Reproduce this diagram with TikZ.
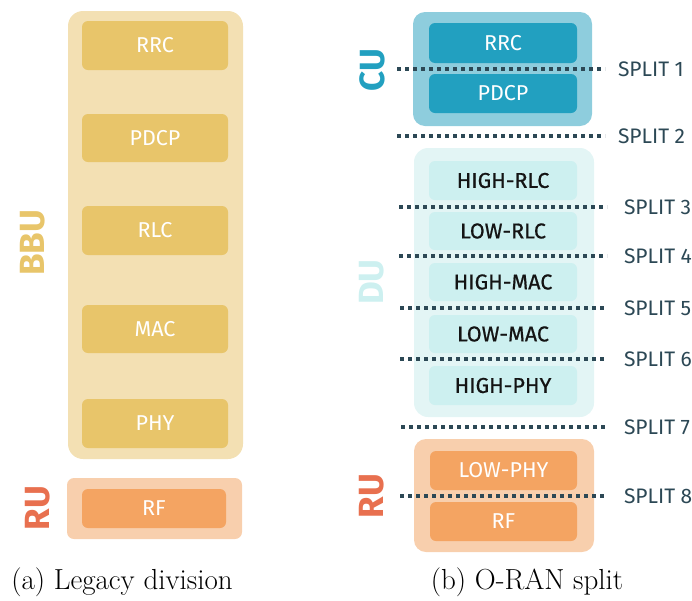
\documentclass[tikz,border=0pt]{standalone}
\usepackage{fontspec}
\newfontfamily\labelfont{Fira Sans}
\newfontfamily\medlabelfont{Fira Sans}[FakeBold=0.7]
\definecolor{bbuBack}{HTML}{F3E0B3}
\definecolor{bbuFill}{HTML}{E8C56A}
\definecolor{ruBack}{HTML}{F8CFAD}
\definecolor{ruFill}{HTML}{F4A462}
\definecolor{ruText}{HTML}{E8704F}
\definecolor{cuBack}{HTML}{8ECDDD}
\definecolor{cuFill}{HTML}{22A0C0}
\definecolor{duBack}{HTML}{E3F5F5}
\definecolor{duFill}{HTML}{CDF0F0}
\definecolor{splitInk}{HTML}{2C4855}
\begin{document}
\begin{tikzpicture}[x=1pt,y=-1pt,
  every node/.style={outer sep=0pt, inner sep=0pt},
  layer/.style={rounded corners=6pt, minimum width=146pt, text=white,
    font=\labelfont\fontsize{21.5}{24}\selectfont},
  dulayer/.style={layer, text=black!92, font=\medlabelfont\fontsize{21.5}{24}\selectfont},
  group/.style={rounded corners=#1},
  unitlabel/.style={rotate=90, font=\labelfont\bfseries\fontsize{35}{38}\selectfont},
  splitline/.style={splitInk, line width=3.5pt, dash pattern=on 4pt off 4pt},
  splitlabel/.style={anchor=west, text=splitInk, font=\labelfont\fontsize{21}{24}\selectfont},
  caption/.style={font=\fontsize{29}{32}\selectfont}]
\useasboundingbox (0,0) rectangle (692,600);

% ---------- (a) legacy division ----------
\fill[bbuBack, group=15pt] (68,11) rectangle (243,459);
\node[layer, fill=bbuFill, minimum height=49pt] (rrcA) at (155,45.5) {RRC};
\node[layer, fill=bbuFill, minimum height=48pt] (pdcpA) at (155,138) {PDCP};
\node[layer, fill=bbuFill, minimum height=49pt] (rlcA) at (155,230.5) {RLC};
\node[layer, fill=bbuFill, minimum height=48pt] (macA) at (155,329) {MAC};
\node[layer, fill=bbuFill, minimum height=49pt] (phyA) at (155,423.5) {PHY};
\fill[ruBack, group=7pt] (67,478) rectangle (242,539);
\node[layer, fill=ruFill, minimum height=39pt, minimum width=144pt] (rfA) at (154,508.5) {RF};
\node[unitlabel, text=bbuFill] (bbu) at (33,243) {BBU};
\node[unitlabel, text=ruText] (ruA) at (38,508) {RU};
\node[caption] (capA) at (122,582) {(a) Legacy division};

% ---------- (b) O-RAN split ----------
\fill[cuBack, group=12pt] (413,12) rectangle (592,126);
\node[layer, fill=cuFill, minimum height=40pt, minimum width=148pt] (rrcB) at (503,43) {RRC};
\node[layer, fill=cuFill, minimum height=39pt, minimum width=148pt] (pdcpB) at (503,93.5) {PDCP};

\fill[duBack, group=14pt] (414,148) rectangle (594,417);
\node[dulayer, fill=duFill, minimum height=39pt, minimum width=148pt] (hrlc) at (503,180.5) {HIGH-RLC};
\node[dulayer, fill=duFill, minimum height=38pt, minimum width=148pt] (lrlc) at (503,231) {LOW-RLC};
\node[dulayer, fill=duFill, minimum height=38pt, minimum width=148pt] (hmac) at (503,282) {HIGH-MAC};
\node[dulayer, fill=duFill, minimum height=38pt, minimum width=148pt] (lmac) at (503,334) {LOW-MAC};
\node[dulayer, fill=duFill, minimum height=39pt, minimum width=148pt] (hphy) at (503,385.5) {HIGH-PHY};

\fill[ruBack, group=12pt] (414,439) rectangle (594,552);
\node[layer, fill=ruFill, minimum height=39pt, minimum width=147pt] (lphy) at (503.5,470.5) {LOW-PHY};
\node[layer, fill=ruFill, minimum height=39pt, minimum width=147pt] (rfB) at (503.5,521.5) {RF};

\node[unitlabel, text=cuFill] (cu) at (372,70) {CU};
\node[unitlabel, text=duFill] (du) at (372,282) {DU};
\node[unitlabel, text=ruText] (ruB) at (372,496) {RU};

% split points
\foreach \n/\y/\xa/\xb/\xl in {1/69/397/605/618, 2/136/397/605/618,
    3/207/399/607/624, 4/256/399/607/624, 5/308/400/607/624,
    6/359/400/607/624, 7/427/401/607/624, 8/496/400/607/624}{
  \coordinate (sa\n) at (\xa,\y);
  \coordinate (sb\n) at (\xb,\y);
  \node[splitlabel] (sl\n) at (\xl,\y) {SPLIT \n};
  \draw[splitline] (sa\n) -- (sb\n);
}
\node[caption] (capB) at (527,582) {(b) O-RAN split};
\end{tikzpicture}
\end{document}
